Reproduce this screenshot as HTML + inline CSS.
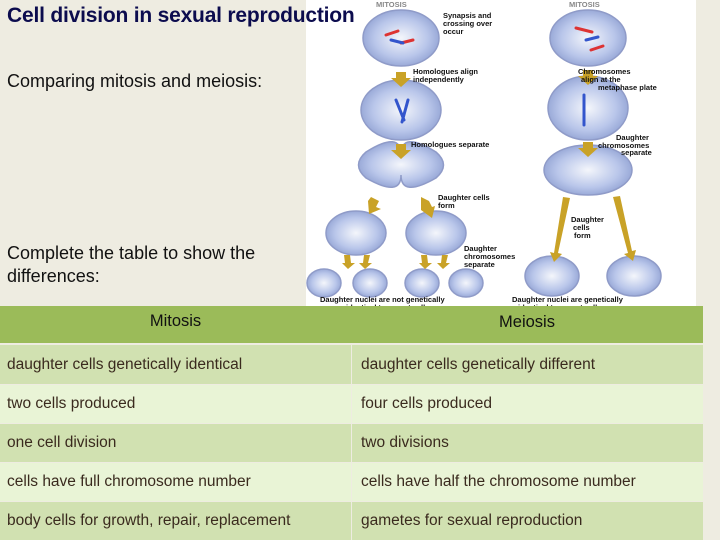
<!DOCTYPE html>
<html><head><meta charset="utf-8"><style>
body{margin:0;width:720px;height:540px;background:#eeece1;position:relative;overflow:hidden;font-family:"Liberation Sans",sans-serif}
.t{position:absolute;white-space:nowrap}
#img{position:absolute;left:306px;top:0;width:390px;height:313px;background:#fff}
.c{position:absolute;box-sizing:border-box;font-size:15.5px;color:#3a2a1e;padding-left:7px;display:flex;align-items:center;white-space:nowrap}
.a{background:#d1e1b1}.b{background:#e9f4d6}
</style></head><body>
<svg id="img" viewBox="0 0 390 313" xmlns="http://www.w3.org/2000/svg">
<rect width="390" height="313" fill="#fff"/>
<defs><radialGradient id="g"><stop offset="0" stop-color="#f4f6fb"/><stop offset="0.7" stop-color="#b9c6ea"/><stop offset="1" stop-color="#9aaad8"/></radialGradient></defs>
<g fill="url(#g)" stroke="#8f9bc8" stroke-width="1.5">
<ellipse cx="95" cy="38" rx="38" ry="28"/>
<ellipse cx="95" cy="110" rx="40" ry="30"/>
<path d="M60 162 Q95 140 95 165 Q95 140 130 162 Q145 175 130 188 Q95 208 95 185 Q95 208 60 188 Q45 175 60 162Z" transform="translate(0,-10)"/>
<ellipse cx="50" cy="233" rx="30" ry="22"/>
<ellipse cx="130" cy="233" rx="30" ry="22"/>
<ellipse cx="18" cy="283" rx="17" ry="14"/>
<ellipse cx="64" cy="283" rx="17" ry="14"/>
<ellipse cx="116" cy="283" rx="17" ry="14"/>
<ellipse cx="160" cy="283" rx="17" ry="14"/>
<ellipse cx="282" cy="38" rx="38" ry="28"/>
<ellipse cx="282" cy="108" rx="40" ry="32"/>
<ellipse cx="282" cy="170" rx="44" ry="25"/>
<ellipse cx="246" cy="276" rx="27" ry="20"/>
<ellipse cx="328" cy="276" rx="27" ry="20"/>
</g>
<g fill="#c9a227">
<path d="M90 72h10v6h5l-10 9-10-9h5z"/><path d="M90 144h10v6h5l-10 9-10-9h5z"/>
<path d="M277 70h10v6h5l-10 9-10-9h5z"/><path d="M277 142h10v6h5l-10 9-10-9h5z"/>
<path d="M65 197l8 4-3 6 5 2-12 5-1-13z"/><path d="M115 197l8 4 3 6 3-1-3 12-11-8z"/>
<path d="M257 197l7 1-12 55 4 1-8 8-4-10 4 1z"/><path d="M307 197l7-1 12 55 4-1-3 11-9-7 4-1z"/>
<path d="M38 255h6l1 8h4l-7 6-6-6h3z"/><path d="M58 255h6l-2 8h4l-7 6-6-6h4z"/>
<path d="M115 255h6l1 8h4l-7 6-6-6h3z"/><path d="M136 255h6l-2 8h4l-7 6-6-6h4z"/>
</g>
<g stroke-width="3" stroke-linecap="round">
<path d="M80 35l12-4M95 43l12-3M270 28l16 4M285 50l12-4" stroke="#d33"/>
<path d="M85 40l12 3M280 40l12-3M278 95v30M90 100l8 20M102 100l-6 22" stroke="#35c"/>
</g>
<g font-family="Liberation Sans" font-weight="bold" font-size="7.5" fill="#111">
<text x="70" y="7" fill="#888">MITOSIS</text><text x="263" y="7" fill="#888">MITOSIS</text>
<text x="137" y="18">Synapsis and</text><text x="137" y="26">crossing over</text><text x="137" y="34">occur</text>
<text x="107" y="74">Homologues align</text><text x="107" y="82">independently</text>
<text x="105" y="147">Homologues separate</text>
<text x="132" y="200">Daughter cells</text><text x="132" y="208">form</text>
<text x="158" y="251">Daughter</text><text x="158" y="259">chromosomes</text><text x="158" y="267">separate</text>
<text x="14" y="302">Daughter nuclei are not genetically</text><text x="40" y="310">identical to parent cell</text>
<text x="272" y="74">Chromosomes</text><text x="275" y="82">align at the</text><text x="292" y="90">metaphase plate</text>
<text x="310" y="140">Daughter</text><text x="292" y="148">chromosomes</text><text x="315" y="155">separate</text>
<text x="265" y="222">Daughter</text><text x="267" y="230">cells</text><text x="268" y="238">form</text>
<text x="206" y="302">Daughter nuclei are genetically</text><text x="212" y="310">identical to parent cell</text>
</g>
</svg>
<div class="t" style="left:7px;top:4px;font-size:21px;font-weight:bold;color:#0c0c4e;letter-spacing:-0.2px">Cell division in sexual reproduction</div>
<div class="t" style="left:7px;top:71px;font-size:18px;color:#111">Comparing mitosis and meiosis:</div>
<div class="t" style="left:7px;top:242px;font-size:18px;color:#111;line-height:23px">Complete the table to show the<br>differences:</div>

<div style="position:absolute;left:0;top:306px;width:703px;height:37px;background:#9bbb59"></div>
<div class="t" style="left:0;width:351px;top:312px;text-align:center;font-size:16.5px;color:#111">Mitosis</div>
<div class="t" style="left:351px;width:352px;top:313px;text-align:center;font-size:16.5px;color:#111">Meiosis</div>

<div class="c a" style="left:0;top:345px;width:351px;height:39px">daughter cells genetically identical</div>
<div class="c a" style="left:352px;top:345px;width:351px;height:39px;padding-left:9px">daughter cells genetically different</div>
<div class="c b" style="left:0;top:385px;width:351px;height:38px">two cells produced</div>
<div class="c b" style="left:352px;top:385px;width:351px;height:38px;padding-left:9px">four cells produced</div>
<div class="c a" style="left:0;top:424px;width:351px;height:38px">one cell division</div>
<div class="c a" style="left:352px;top:424px;width:351px;height:38px;padding-left:9px">two divisions</div>
<div class="c b" style="left:0;top:463px;width:351px;height:38px">cells have full chromosome number</div>
<div class="c b" style="left:352px;top:463px;width:351px;height:38px;padding-left:9px">cells have half the chromosome number</div>
<div class="c a" style="left:0;top:502px;width:351px;height:38px">body cells for growth, repair, replacement</div>
<div class="c a" style="left:352px;top:502px;width:351px;height:38px;padding-left:9px">gametes for sexual reproduction</div>
</body></html>
